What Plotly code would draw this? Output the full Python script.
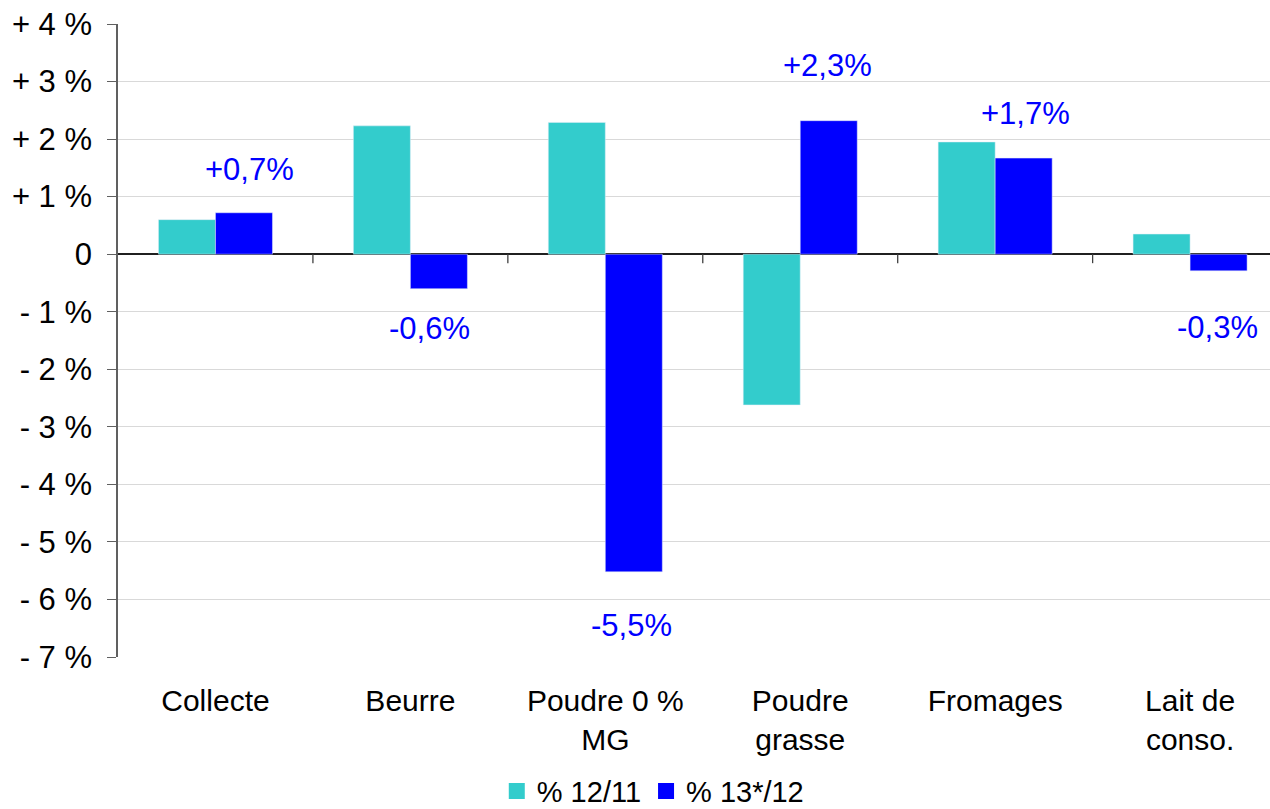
import plotly.graph_objects as go

categories = ["Collecte", "Beurre", "Poudre 0 %<br>MG", "Poudre<br>grasse", "Fromages", "Lait de<br>conso."]
series_names = ["% 12/11", "% 13*/12"]
values_12_11 = [0.60, 2.23, 2.29, -2.62, 1.95, 0.35]
values_13_12 = [0.72, -0.60, -5.52, 2.32, 1.67, -0.29]
label_texts = ["+0,7%", "-0,6%", "-5,5%", "+2,3%", "+1,7%", "-0,3%"]
y_tickvals = [4, 3, 2, 1, 0, -1, -2, -3, -4, -5, -6, -7]
y_ticktext = ["+ 4 %", "+ 3 %", "+ 2 %", "+ 1 %", "0", "- 1 %", "- 2 %", "- 3 %", "- 4 %", "- 5 %", "- 6 %", "- 7 %"]

# label placement (pixel offsets), style only
label_xshift = [34, 19, 26, 27, 30, 27]
label_yshift = [43, -40, -54, 55, 45, -57]

FONT = "Liberation Sans, Arial, sans-serif"
TEAL = "#33CCCC"
BLUE = "#0000FF"

x = list(range(len(categories)))

fig = go.Figure()
fig.add_trace(go.Bar(x=x, y=values_12_11, name=series_names[0], marker_color=TEAL, showlegend=False))
fig.add_trace(go.Bar(x=x, y=values_13_12, name=series_names[1], marker_color=BLUE, showlegend=False))
# legend entries with larger square swatches
for name, col in zip(series_names, [TEAL, BLUE]):
    fig.add_trace(go.Scatter(x=[None], y=[None], mode="markers", name=name,
                             marker=dict(symbol="square", size=16, color=col)))

for i, (v, t) in enumerate(zip(values_13_12, label_texts)):
    fig.add_annotation(x=i, y=v, text=t, showarrow=False, xshift=label_xshift[i],
                       yshift=label_yshift[i], font=dict(family=FONT, size=31, color=BLUE))

# category boundary ticks on the zero line
for i in range(len(categories) - 1):
    b = i + 0.5
    fig.add_shape(type="line", xref="x", yref="y", x0=b, x1=b, y0=0, y1=-9,
                  ysizemode="pixel", yanchor=0, line=dict(color="#404040", width=1.3))

fig.update_layout(
    width=1270, height=809,
    margin=dict(l=118, r=0, t=24, b=152),
    paper_bgcolor="white", plot_bgcolor="white",
    barmode="group", bargap=0.415, bargroupgap=0,
    font=dict(family=FONT, size=30, color="black"),
    showlegend=True,
    legend=dict(orientation="h", xref="container", x=0.514, xanchor="center",
                yref="container", y=0.022, yanchor="middle",
                font=dict(family=FONT, size=29), itemsizing="trace", tracegroupgap=0),
)
fig.update_xaxes(
    range=[-0.5, 5.41], tickmode="array", tickvals=x, ticktext=categories,
    showgrid=False, showline=False, ticks="", zeroline=False,
    tickfont=dict(family=FONT, size=30), ticklabelstandoff=23,
)
fig.update_yaxes(
    range=[-7, 4], tickmode="array", tickvals=y_tickvals, ticktext=y_ticktext,
    showgrid=True, gridcolor="#D9D9D9", gridwidth=1.3,
    zeroline=True, zerolinecolor="#202020", zerolinewidth=1.5,
    showline=True, linecolor="#606060", linewidth=1.5,
    ticks="outside", ticklen=9, tickcolor="#606060", tickwidth=1.3,
    tickfont=dict(family=FONT, size=31), ticklabelstandoff=9,
)

fig.write_html("out.html", config={"displayModeBar": False},
               post_script="document.body.style.margin='0';document.body.style.overflow='hidden';")
